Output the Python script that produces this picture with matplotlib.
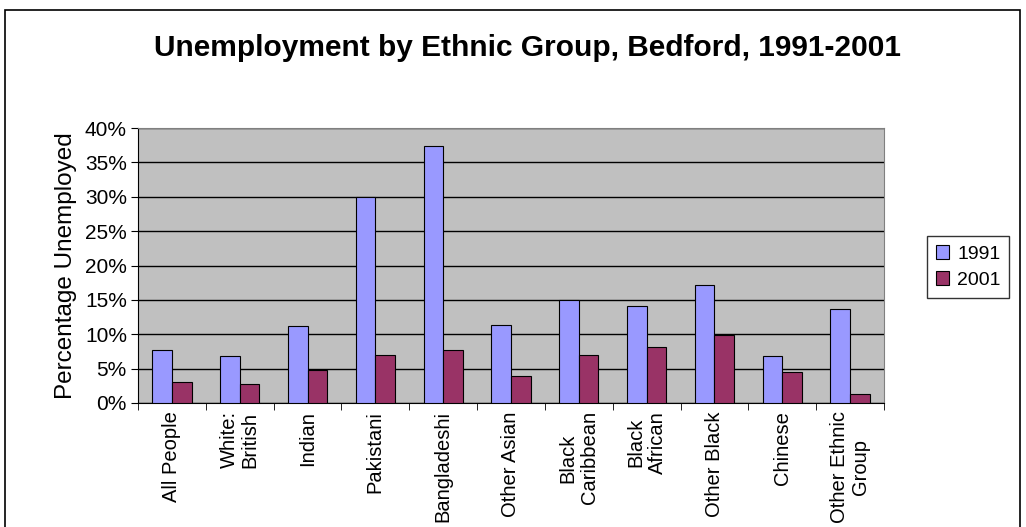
import numpy as np
import matplotlib
matplotlib.use("Agg")
import matplotlib.pyplot as plt
from matplotlib.patches import Rectangle
from matplotlib.ticker import FuncFormatter, FixedLocator

# Dati (percentuali)
groups = ["All People", "White:\nBritish", "Indian", "Pakistani", "Bangladeshi",
          "Other Asian", "Black\nCaribbean", "Black\nAfrican", "Other Black",
          "Chinese", "Other Ethnic\nGroup"]
unemp_1991 = [7.7, 6.8, 11.2, 29.9, 37.4, 11.3, 15.0, 14.1, 17.2, 6.8, 13.7]
unemp_2001 = [3.1, 2.8, 4.8, 7.0, 7.7, 3.9, 7.0, 8.2, 9.9, 4.5, 1.3]
years = ["1991", "2001"]

plt.rcParams['font.family'] = ['Liberation Sans', 'DejaVu Sans']

fig = plt.figure(figsize=(10.26, 5.27), dpi=100)
ax = fig.add_axes([138/1026, 1 - 403/527, 746/1026, 275/527])

# cornice esterna del grafico
fig.patches.append(Rectangle((5/1026, -0.1), 1015/1026, 1.1 - 10/527, transform=fig.transFigure,
                             fill=False, edgecolor='black', linewidth=1.2))

x = np.arange(len(groups))
w = 0.29
ax.bar(x - w/2, unemp_1991, w, color='#9999FF', edgecolor='black', linewidth=0.8, label=years[0], zorder=3)
ax.bar(x + w/2, unemp_2001, w, color='#993366', edgecolor='black', linewidth=0.8, label=years[1], zorder=3)

ax.set_facecolor('#C0C0C0')
ax.set_xlim(-0.5, len(groups) - 0.5)
ax.set_ylim(0, 40)
ax.set_yticks(np.arange(0, 41, 5))
ax.yaxis.set_major_formatter(FuncFormatter(lambda v, p: f"{v:.0f}%"))
ax.grid(axis='y', color='black', linewidth=1, zorder=1)
ax.tick_params(axis='y', labelsize=15, length=5, direction='out', pad=3)

# etichette categorie e tacche tra categorie
ax.set_xticks(x)
ax.set_xticklabels(groups, rotation=90, fontsize=14.5, multialignment='center', linespacing=1.15)
ax.tick_params(axis='x', which='major', length=0, pad=6)
ax.xaxis.set_minor_locator(FixedLocator(np.arange(-0.5, len(groups), 1)))
ax.tick_params(axis='x', which='minor', length=5, direction='out')

for s in ['top', 'right']:
    ax.spines[s].set_color('#808080')
ax.spines['left'].set_color('black')
ax.spines['bottom'].set_color('black')

ax.set_ylabel("Percentage Unemployed", fontsize=17.5, labelpad=6)

fig.text(0.514, 1 - 48/527, "Unemployment by Ethnic Group, Bedford, 1991-2001",
         ha='center', va='center', fontsize=21.5, fontweight='bold')

leg = ax.legend(loc='center left', bbox_to_anchor=(927/1026, 1 - 267/527), bbox_transform=fig.transFigure,
                fontsize=14, frameon=True, fancybox=False, edgecolor='black',
                handlelength=0.7, handleheight=0.7, handletextpad=0.4, borderpad=0.45, labelspacing=0.45,
                borderaxespad=0)
leg.get_frame().set_linewidth(1)

fig.savefig("out.png", dpi=100)
